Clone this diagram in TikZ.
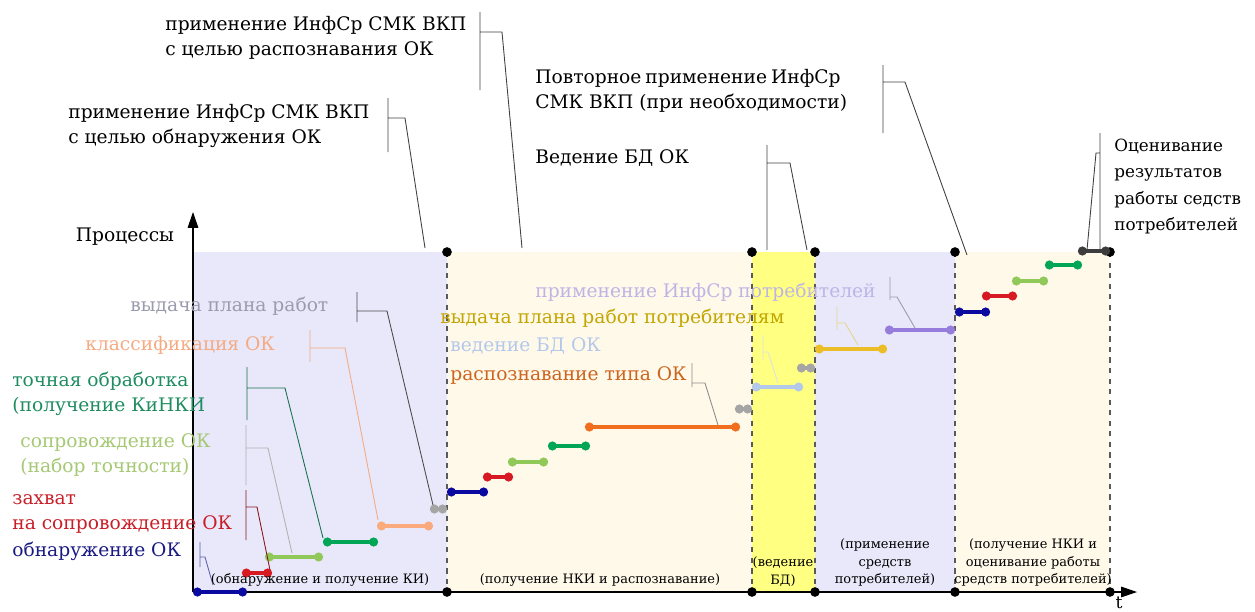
\documentclass[tikz,border=0pt]{standalone}
\usepackage{fontspec}
\setmainfont{DejaVu Serif}
\newfontfamily\timesfont{DejaVu Serif}[Scale=0.81]
\usetikzlibrary{arrows.meta,positioning}

\definecolor{lav}{RGB}{232,232,250}
\definecolor{cream}{RGB}{255,249,234}
\definecolor{yel}{RGB}{255,255,130}
\definecolor{cblue}{RGB}{10,10,160}
\definecolor{cred}{RGB}{215,25,35}
\definecolor{clgreen}{RGB}{145,200,90}
\definecolor{cgreen}{RGB}{0,165,85}
\definecolor{corange}{RGB}{240,110,30}
\definecolor{csalmon}{RGB}{250,170,125}
\definecolor{cgray}{RGB}{165,165,165}
\definecolor{clblue}{RGB}{180,200,235}
\definecolor{cgold}{RGB}{235,190,40}
\definecolor{cpurple}{RGB}{150,125,220}
\definecolor{cdark}{RGB}{60,60,60}
\definecolor{tteal}{RGB}{30,140,95}
\definecolor{tlgreen}{RGB}{165,200,115}
\definecolor{tred}{RGB}{200,30,40}
\definecolor{tblue}{RGB}{25,25,130}
\definecolor{tsalmon}{RGB}{245,170,130}
\definecolor{tgray}{RGB}{155,155,175}
\definecolor{tlav}{RGB}{190,180,230}
\definecolor{tgold}{RGB}{195,165,0}
\definecolor{tlblue}{RGB}{180,200,235}
\definecolor{torange}{RGB}{205,100,30}

\begin{document}
\begin{tikzpicture}[x=0.02cm, y=-0.02cm,
  lbl/.style={font=\timesfont\fontsize{13.1}{14.3}\selectfont, anchor=north west,
    inner sep=0pt, align=left},
  phase/.style={font=\timesfont\fontsize{9.1}{10.2}\selectfont, align=center,
    inner sep=0pt, anchor=south},
  bar/.style={line width=2.4pt, {Circle[length=5pt]}-{Circle[length=5pt]}},
  callout/.style={line width=0.5pt},
  sep/.style={dashed, black!65, line width=0.6pt},
  dot/.style={circle, fill=black, inner sep=0pt, minimum size=5.5pt}
]
  \useasboundingbox (0,0) rectangle (1255,612);

  % phases
  \fill[lav] (193,252) rectangle (447,592);
  \fill[cream] (447,252) rectangle (752,592);
  \fill[yel] (752,252) rectangle (815,592);
  \fill[lav] (815,252) rectangle (955,592);
  \fill[cream] (955,252) rectangle (1110,592);

  % axes
  \draw[line width=0.6pt, -{Triangle[length=9pt,width=6pt]}] (193,592) -- (193,212);
  \draw[line width=0.6pt, -{Triangle[length=9pt,width=6pt]}] (193,592) -- (1137,592);
  \node[lbl, anchor=center] (yname) at (125,237) {Процессы};
  \node[font=\timesfont\fontsize{12}{13}\selectfont, inner sep=0pt] (tname) at (1119,603) {t};

  \foreach \x in {447,752,815,955,1110} {
    \draw[sep] (\x,252) -- (\x,592);
    \node[dot] (top\x) at (\x,252) {};
    \node[dot] (bot\x) at (\x,592) {};
  }

  % bars
  \foreach \xa/\xb/\y/\c in {193/247/592/cblue, 242/272/573/cred, 265/323/557/clgreen,
      323/378/542/cgreen, 377/433/526/csalmon, 430/447/509/cgray,
      447/488/492/cblue, 483/513/477/cred, 508/548/462/clgreen, 548/590/446/cgreen,
      585/740/427/corange, 735/752/409/cgray, 752/803/387/clblue, 797/815/368/cgray,
      815/887/349/cgold, 885/955/330/cpurple,
      955/990/312/cblue, 982/1017/296/cred, 1012/1048/281/clgreen,
      1045/1082/265/cgreen, 1078/1110/251/cdark}
    \draw[bar, \c] (\xa,\y) -- (\xb,\y);

  % callouts
  \draw[callout, black!75] (480,12) -- (480,90) (480,32) -- (502,32) -- (522,248);
  \draw[callout, black!75] (388,98) -- (388,152) (388,118) -- (405,118) -- (425,248);
  \draw[callout, black!75] (883,65) -- (883,133) (883,82) -- (905,82) -- (967,255);
  \draw[callout, black!75] (767,145) -- (767,250) (767,163) -- (790,163) -- (807,250);
  \draw[callout, black!75] (1100,133) -- (1100,250) (1100,153) -- (1096,153) -- (1087,250);
  \draw[callout, black!70] (357,292) -- (357,322) (357,311) -- (387,311) -- (433,505);
  \draw[callout, tsalmon] (310,330) -- (310,362) (310,348) -- (345,348) -- (378,520);
  \draw[callout, tteal!80!black] (247,367) -- (247,420) (247,388) -- (285,388) -- (323,538);
  \draw[callout, black!30] (246,425) -- (246,485) (246,448) -- (268,448) -- (292,553);
  \draw[callout, tred!70!black] (246,490) -- (246,540) (246,507) -- (257,507) -- (270,570);
  \draw[callout, tblue!70] (200,542) -- (200,567) (200,557) -- (205,557) -- (213,585);
  \draw[callout, black!45] (692,363) -- (692,387) (692,383) -- (705,383) -- (718,425);
  \draw[callout, black!12] (763,335) -- (763,360) (763,352) -- (768,352) -- (778,383);
  \draw[callout, tgold!45] (837,307) -- (837,330) (837,323) -- (845,323) -- (858,345);
  \draw[callout, tgray] (890,277) -- (890,300) (890,297) -- (897,297) -- (915,328);

  % process labels
  \node[lbl, tteal] (fine) at (12,372) {точная обработка\\(получение КиНКИ};
  \node[lbl, tlgreen] (track) at (20,433) {сопровождение ОК\\(набор точности)};
  \node[lbl, tred] (capt) at (12,494) {захват\\на сопровождение ОК};
  \node[lbl, tblue] (detect) at (12,542) {обнаружение ОК};
  \node[lbl, tsalmon] (classif) at (85,336) {классификация ОК};
  \node[lbl, tgray] (plan) at (130,297) {выдача плана работ};
  \node[lbl, tlav] (useinf) at (535,283) {применение ИнфСр потребителей};
  \node[lbl, tgold] (plancons) at (440,309) {выдача плана работ потребителям};
  \node[lbl, tlblue] (dbok) at (450,337) {ведение БД ОК};
  \node[lbl, torange] (recog) at (450,366) {распознавание типа ОК};

  % top labels
  \node[lbl] (inf2) at (165,16) {применение ИнфСр СМК ВКП\\с целью распознавания ОК};
  \node[lbl] (inf1) at (68,104) {применение ИнфСр СМК ВКП\\с целью обнаружения ОК};
  \node[lbl] (inf3) at (535,69) {\hbox to 5.96cm{Повторное\hfill{} применение\hfill{} ИнфСр}\\СМК ВКП (при необходимости)};
  \node[lbl] (dbtop) at (535,149) {Ведение БД ОК};
  \node[lbl, font=\timesfont\fontsize{11.8}{14.9}\selectfont] (eval) at (1114,139) {Оценивание\\результатов\\работы седств\\потребителей};

  % phase names
  \node[phase] (ph1) at (320,587) {(обнаружение и получение КИ)};
  \node[phase] (ph2) at (600,587) {(получение НКИ и распознавание)};
  \node[phase] (ph3) at (783,587) {(ведение\\БД)};
  \node[phase] (ph4) at (885,587) {(применение\\средств\\потребителей)};
  \node[phase] (ph5) at (1033,587) {(получение НКИ и\\оценивание работы\\средств потребителей)};
\end{tikzpicture}
\end{document}
